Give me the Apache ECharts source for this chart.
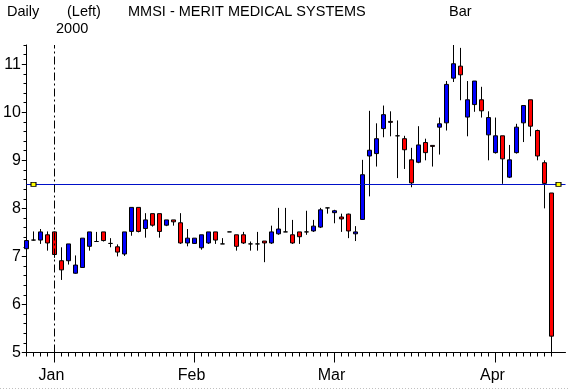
<!DOCTYPE html>
<html>
<head>
<meta charset="utf-8">
<script src="https://cdn.jsdelivr.net/npm/echarts@6/dist/echarts.min.js"></script>
<style>
html,body{margin:0;padding:0;background:#fff;}
#c{width:569px;height:389px;}
</style>
</head>
<body>
<div id="c"></div>
<script>
// ---- data ----
const dates = [
  '1999-12-28','1999-12-29','1999-12-30','1999-12-31',
  '2000-01-03','2000-01-04','2000-01-05','2000-01-06','2000-01-07','2000-01-10','2000-01-11','2000-01-12','2000-01-13','2000-01-14',
  '2000-01-18','2000-01-19','2000-01-20','2000-01-21','2000-01-24','2000-01-25','2000-01-26','2000-01-27','2000-01-28','2000-01-31',
  '2000-02-01','2000-02-02','2000-02-03','2000-02-04','2000-02-07','2000-02-08','2000-02-09','2000-02-10','2000-02-11','2000-02-14',
  '2000-02-15','2000-02-16','2000-02-17','2000-02-18','2000-02-22','2000-02-23','2000-02-24','2000-02-25','2000-02-28','2000-02-29',
  '2000-03-01','2000-03-02','2000-03-03','2000-03-06','2000-03-07','2000-03-08','2000-03-09','2000-03-10','2000-03-13','2000-03-14',
  '2000-03-15','2000-03-16','2000-03-17','2000-03-20','2000-03-21','2000-03-22','2000-03-23','2000-03-24','2000-03-27','2000-03-28',
  '2000-03-29','2000-03-30','2000-03-31',
  '2000-04-03','2000-04-04','2000-04-05','2000-04-06','2000-04-07','2000-04-10','2000-04-11','2000-04-12','2000-04-13'
];
const opens  = [7.16,7.34,7.34,7.45,7.51,6.91,6.91,6.65,6.77,7.21,7.31,7.51,7.27,7.20,7.05,7.52,8.02,7.58,7.89,7.89,
                7.65,7.76,7.70,7.28,7.27,7.18,7.28,7.51,7.26,7.51,7.45,7.45,7.26,7.26,7.32,7.28,7.47,7.51,7.45,7.51,
                7.51,7.53,7.61,8.01,7.91,7.82,7.88,7.47,7.77,9.09,9.14,9.66,9.81,9.51,9.45,9.01,8.96,9.37,9.31,9.69,
                9.78,10.71,10.96,9.90,10.16,10.26,9.53,9.16,9.51,8.65,9.16,9.78,10.26,9.62,8.95,8.32];
const closes = [7.33,7.34,7.51,7.28,7.04,6.72,7.26,6.82,7.38,7.51,7.31,7.33,7.27,7.09,7.51,8.02,7.52,7.76,7.65,7.52,
                7.76,7.72,7.28,7.38,7.38,7.45,7.51,7.34,7.26,7.51,7.21,7.28,7.26,7.26,7.28,7.51,7.57,7.51,7.28,7.41,
                7.51,7.63,7.97,8.01,7.95,7.78,7.53,7.51,8.70,9.21,9.45,9.95,9.79,9.51,9.22,8.53,9.32,9.16,9.29,9.76,
                10.58,11.01,10.78,10.26,10.65,10.03,9.89,9.51,9.03,9.01,9.69,10.14,9.71,9.09,8.52,5.34];
const lows   = [7.13,7.33,7.26,7.12,6.97,6.51,6.83,6.64,6.76,7.12,7.31,7.31,7.19,7.00,7.01,7.43,7.50,7.39,7.62,7.39,
                7.63,7.64,7.26,7.21,7.26,7.14,7.26,7.26,7.26,7.51,7.12,7.26,7.12,7.12,6.88,7.26,7.45,7.51,7.26,7.26,
                7.45,7.51,7.59,7.89,7.69,7.51,7.38,7.32,7.76,8.25,8.87,9.48,9.50,8.63,8.82,8.44,8.94,9.00,8.87,9.12,
                9.62,10.63,10.25,9.50,10.01,9.89,9.00,9.14,8.51,8.63,9.14,9.38,9.50,9.00,8.00,4.98];
const highs  = [7.52,7.52,7.57,7.52,7.52,7.19,7.26,7.02,7.38,7.51,7.51,7.51,7.38,7.25,7.51,8.02,8.02,7.90,7.89,7.89,
                7.76,7.76,7.90,7.57,7.38,7.45,7.51,7.51,7.38,7.51,7.45,7.51,7.31,7.51,7.32,7.64,8.01,8.01,7.76,7.51,
                7.95,7.76,8.01,8.01,7.97,7.89,7.89,7.63,9.01,10.03,9.77,10.14,10.02,9.83,9.51,9.26,9.71,9.45,9.31,9.89,
                10.65,11.40,11.34,10.65,10.65,10.53,10.02,9.89,9.51,9.32,9.76,10.14,10.26,9.64,9.00,8.32];
const monthNames = ['Jan','Feb','Mar','Apr'];
const monthFirstDates = ['2000-01-03','2000-02-01','2000-03-01','2000-04-03'];
const yLabels = [5,6,7,8,9,10,11];
const levelLine = 8.5;
const markerDates = ['1999-12-29', 'pad1'];
const headerTexts = ['Daily','(Left)','MMSI - MERIT MEDICAL SYSTEMS','Bar'];
const yearLabel = '2000';
const splitDate = '2000-01-03';

// ---- build ----
const padCats = ['pad1','pad2'];
const cats = dates.concat(padCats);
const ohlc = dates.map((d,i)=>[opens[i],closes[i],lows[i],highs[i]]);
const monthIdx = monthFirstDates.map(d=>cats.indexOf(d));
const FONT = "'Liberation Sans',sans-serif";

const chart = echarts.init(document.getElementById('c'), null, {renderer:'canvas'});
const txt = (text,left,top)=>({text:text,left:left,top:top,padding:0,
  textStyle:{fontFamily:FONT,fontSize:14.5,fontWeight:'normal',color:'#000'}});

const GL = 26.5, GR = 569 - (26.5 + 77*7);
chart.setOption({
  animation:false,
  backgroundColor:'#fff',
  title:[
    txt(headerTexts[0],7,4),
    txt(headerTexts[1],67,4),
    txt(headerTexts[2],128,4),
    txt(headerTexts[3],449,4),
    txt(yearLabel,56,21)
  ],
  grid:[
    {left:GL,right:GR,top:45,bottom:36.5},
    {left:GL,right:GR,top:45+0.4*(352.5-45)/6.4,bottom:36.5}
  ],
  xAxis:[
    {type:'category',gridIndex:0,data:cats,boundaryGap:false,position:'bottom',
     axisLine:{show:true,lineStyle:{color:'#000',width:1}},
     axisTick:{show:true,length:4,interval:(i)=>i<dates.length,lineStyle:{color:'#000'}},
     axisLabel:{show:false},splitLine:{show:false}},
    {type:'category',gridIndex:0,data:cats,boundaryGap:false,position:'bottom',
     axisLine:{show:false},
     axisTick:{show:true,length:10,interval:(i)=>monthIdx.indexOf(i)>=0,lineStyle:{color:'#000'}},
     axisLabel:{show:true,interval:(i)=>monthIdx.indexOf(i)>=0,margin:15,padding:[0,6,0,0],
       formatter:(v)=>{const k=monthFirstDates.indexOf(v);return k>=0?monthNames[k]:'';},
       fontFamily:FONT,fontSize:16,color:'#000'},
     splitLine:{show:false}},
    {type:'value',gridIndex:1,show:false}
  ],
  yAxis:[
    {type:'value',gridIndex:0,min:5,max:11.4,interval:0.2,position:'left',
     axisLine:{show:true,lineStyle:{color:'#000'}},
     axisTick:{show:true,length:3,lineStyle:{color:'#000'}},
     axisLabel:{show:false},splitLine:{show:false}},
    {type:'value',gridIndex:1,min:yLabels[0],max:yLabels[yLabels.length-1],interval:1,position:'left',
     axisLine:{show:false},
     axisTick:{show:true,length:5,lineStyle:{color:'#000'}},
     axisLabel:{show:true,margin:6,fontFamily:FONT,fontSize:16,color:'#000'},
     splitLine:{show:false}}
  ],
  series:[
    {type:'candlestick',xAxisIndex:0,yAxisIndex:0,data:ohlc,barWidth:5,
     itemStyle:{color:'#0000ff',color0:'#ff0000',borderColor:'#000',borderColor0:'#000',borderColorDoji:'#000',borderWidth:1},
     markLine:{silent:true,symbol:['none','none'],label:{show:false},animation:false,
       data:[
         {yAxis:levelLine,lineStyle:{color:'#0010c8',width:1,type:'solid'}},
         {xAxis:splitDate,lineStyle:{color:'#000',width:1,type:[8,3,2,3]}}
       ]},
     markPoint:{silent:true,symbol:'rect',symbolSize:[5,4],label:{show:false},
       itemStyle:{color:'#ffff00',borderColor:'#000',borderWidth:1},
       data:markerDates.map(d=>({coord:[d,levelLine]}))}
    },
    {type:'line',xAxisIndex:2,yAxisIndex:1,data:[],silent:true}
  ],
  graphic:[
    {type:'line',shape:{x1:0,y1:388.5,x2:569,y2:388.5},silent:true,
     style:{stroke:'#c0c0c0',lineWidth:1,lineDash:[1,2]}}
  ]
});
</script>
</body>
</html>
